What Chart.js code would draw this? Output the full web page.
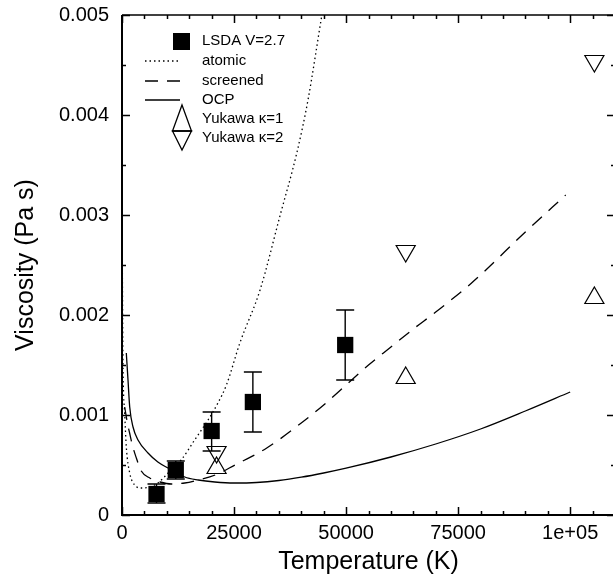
<!DOCTYPE html>
<html>
<head>
<meta charset="utf-8">
<script src="https://cdn.jsdelivr.net/npm/chart.js@4.4.1/dist/chart.umd.min.js"></script>
<style>
  html, body { margin: 0; padding: 0; background: #fff; overflow: hidden; }
</style>
</head>
<body>
<canvas id="chart" width="615" height="580"></canvas>
<script>
// ================= DATA =================
const xTicks = [0, 25000, 50000, 75000, 100000];
const xTickLabels = ["0", "25000", "50000", "75000", "1e+05"];
const yTicks = [0, 0.001, 0.002, 0.003, 0.004, 0.005];
const yTickLabels = ["0", "0.001", "0.002", "0.003", "0.004", "0.005"];

// LSDA V=2.7 (squares with error bars)
const lsdaT = [7700, 12000, 20000, 29200, 49800];
const lsdaV = [0.00021, 0.00045, 0.00084, 0.00113, 0.0017];
const lsdaLow = [0.00012, 0.00036, 0.00064, 0.00083, 0.00135];
const lsdaHigh = [0.00031, 0.00054, 0.00103, 0.00143, 0.00205];

// atomic (dotted)
const atomicT = [60, 220, 600, 960, 1720, 2830, 4300, 6200, 8000, 10300, 13200, 16200, 19200, 21400, 23300, 26300, 30800, 35300, 39000, 41500, 44600, 46500];
const atomicV = [0.0026, 0.00152, 0.00102, 0.00068, 0.00042, 0.0003, 0.00027, 0.00028, 0.00032, 0.00042, 0.00055, 0.00075, 0.00095, 0.00112, 0.0013, 0.00172, 0.00225, 0.003, 0.00362, 0.00415, 0.005, 0.0055];

// screened (dashed)
const screenedT = [600, 1200, 1700, 2300, 3200, 4300, 6200, 8500, 11000, 14000, 17000, 20800, 25200, 32300, 40000, 45000, 50000, 55000, 60000, 65000, 70000, 78000, 90000, 99000];
const screenedV = [0.00108, 0.00092, 0.00082, 0.0007, 0.00057, 0.00044, 0.00037, 0.00033, 0.00031, 0.00032, 0.00035, 0.0004, 0.0005, 0.00067, 0.00092, 0.0011, 0.0013, 0.0015, 0.00168, 0.00186, 0.00203, 0.00232, 0.00283, 0.0032];

// OCP (solid)
const ocpT = [960, 1340, 1720, 2460, 3570, 5800, 8000, 10270, 12000, 14000, 17000, 20700, 25000, 30000, 35000, 40000, 45000, 50000, 60000, 70000, 80000, 90000, 100000];
const ocpV = [0.00162, 0.00135, 0.00108, 0.00088, 0.00075, 0.00062, 0.00053, 0.00047, 0.00043, 0.00038, 0.00035, 0.00033, 0.00032, 0.000325, 0.000345, 0.000378, 0.00042, 0.000468, 0.00058, 0.00071, 0.00086, 0.00104, 0.00123];

// Yukawa points
const yuk1T = [21100, 63300, 105400];
const yuk1V = [0.00047, 0.00137, 0.00217];
const yuk2T = [21100, 63300, 105400];
const yuk2V = [0.00063, 0.00264, 0.00454];

const xMinorStep = 5000;
const yMinorStep = 0.0005;

// ================= HELPERS =================
function toPoints(xs, ys) {
  return xs.map((x, i) => ({ x: x, y: ys[i] }));
}

const FONT = "'Liberation Sans', Arial, Helvetica, sans-serif";

// ================= PLUGINS =================
// error bars for the LSDA squares
const errorBars = {
  id: "errorBars",
  beforeDatasetsDraw(chart) {
    const { ctx, scales: { x, y } } = chart;
    ctx.save();
    ctx.strokeStyle = "#000";
    ctx.lineWidth = 1.4;
    lsdaT.forEach((t, i) => {
      const px = x.getPixelForValue(t);
      const lo = y.getPixelForValue(lsdaLow[i]);
      const hi = y.getPixelForValue(lsdaHigh[i]);
      ctx.beginPath();
      ctx.moveTo(px, lo); ctx.lineTo(px, hi);
      ctx.moveTo(px - 9, lo); ctx.lineTo(px + 9, lo);
      ctx.moveTo(px - 9, hi); ctx.lineTo(px + 9, hi);
      ctx.stroke();
    });
    ctx.restore();
  }
};

// box frame with inward ticks on all four sides
const frameTicks = {
  id: "frameTicks",
  afterDraw(chart) {
    const { ctx, chartArea: a, scales: { x, y } } = chart;
    ctx.save();
    ctx.strokeStyle = "#000";
    ctx.lineWidth = 1.5;
    ctx.beginPath();
    for (let v = 0; v <= x.max; v += xMinorStep) {
      const px = Math.round(x.getPixelForValue(v)) + 0.5;
      const len = xTicks.includes(v) ? 8 : 4;
      ctx.moveTo(px, a.bottom); ctx.lineTo(px, a.bottom - len);
      ctx.moveTo(px, a.top); ctx.lineTo(px, a.top + len);
    }
    for (let i = 0; i * yMinorStep <= y.max + 1e-9; i++) {
      const py = Math.round(y.getPixelForValue(i * yMinorStep)) + 0.5;
      const len = i % 2 === 0 ? 8 : 4;
      ctx.moveTo(a.left, py); ctx.lineTo(a.left + len, py);
      ctx.moveTo(a.right, py); ctx.lineTo(a.right - len, py);
    }
    ctx.stroke();

    ctx.lineWidth = 2;
    ctx.beginPath();
    ctx.moveTo(a.left, a.top);
    ctx.lineTo(a.left, a.bottom);
    ctx.lineTo(a.right, a.bottom);
    ctx.stroke();
    ctx.lineWidth = 1.5;
    ctx.beginPath();
    ctx.moveTo(a.left, a.top);
    ctx.lineTo(a.right, a.top);
    ctx.stroke();
    ctx.restore();
  }
};

// legend inside the plot, top left
const insideLegend = {
  id: "insideLegend",
  afterDraw(chart) {
    const { ctx } = chart;
    const rows = [41, 61, 81, 100, 119, 138];
    const textX = 202;
    ctx.save();
    ctx.fillStyle = "#000";
    ctx.strokeStyle = "#000";
    ctx.font = "15px " + FONT;
    ctx.textBaseline = "middle";
    chart.data.datasets.forEach((ds, i) => {
      const ry = rows[i];
      ctx.fillText(ds.label, textX, ry);
      ctx.lineWidth = 1.3;
      if (ds.legendKind === "square") {
        ctx.fillRect(173, ry - 8, 17, 17);
      } else if (ds.legendKind === "line") {
        ctx.setLineDash(ds.borderDash || []);
        ctx.beginPath();
        ctx.moveTo(145, ry); ctx.lineTo(180, ry);
        ctx.stroke();
        ctx.setLineDash([]);
      } else if (ds.legendKind === "up") {
        ctx.beginPath();
        ctx.moveTo(182, ry - 14);
        ctx.lineTo(191.5, ry + 12);
        ctx.lineTo(172.5, ry + 12);
        ctx.closePath();
        ctx.stroke();
      } else if (ds.legendKind === "down") {
        ctx.beginPath();
        ctx.moveTo(172.5, ry - 7);
        ctx.lineTo(191.5, ry - 7);
        ctx.lineTo(182, ry + 12);
        ctx.closePath();
        ctx.stroke();
      }
    });
    ctx.restore();
  }
};

// ================= CHART =================
const lineBase = {
  type: "scatter",
  showLine: true,
  borderColor: "#000",
  borderWidth: 1.3,
  pointRadius: 0,
  fill: false,
  cubicInterpolationMode: "monotone",
  legendKind: "line"
};

new Chart(document.getElementById("chart"), {
  type: "scatter",
  data: {
    datasets: [
      {
        label: "LSDA V=2.7",
        data: toPoints(lsdaT, lsdaV),
        pointStyle: "rect",
        pointRadius: 11.5,
        backgroundColor: "#000",
        borderColor: "#000",
        borderWidth: 0,
        legendKind: "square"
      },
      Object.assign({}, lineBase, {
        label: "atomic",
        data: toPoints(atomicT, atomicV),
        borderDash: [1.5, 3]
      }),
      Object.assign({}, lineBase, {
        label: "screened",
        data: toPoints(screenedT, screenedV),
        borderDash: [13, 9]
      }),
      Object.assign({}, lineBase, {
        label: "OCP",
        data: toPoints(ocpT, ocpV)
      }),
      {
        label: "Yukawa \u03ba=1",
        data: toPoints(yuk1T, yuk1V),
        pointStyle: "triangle",
        pointRadius: 11,
        backgroundColor: "rgba(0,0,0,0)",
        borderColor: "#000",
        borderWidth: 1.2,
        legendKind: "up"
      },
      {
        label: "Yukawa \u03ba=2",
        data: toPoints(yuk2T, yuk2V),
        pointStyle: "triangle",
        rotation: 180,
        pointRadius: 11,
        backgroundColor: "rgba(0,0,0,0)",
        borderColor: "#000",
        borderWidth: 1.2,
        legendKind: "down"
      }
    ]
  },
  options: {
    responsive: false,
    animation: false,
    events: [],
    layout: { autoPadding: false, padding: { top: 15, right: 0, left: 0, bottom: 0 } },
    plugins: {
      legend: { display: false },
      tooltip: { enabled: false }
    },
    scales: {
      x: {
        type: "linear",
        min: 0,
        max: 110000,
        grid: { display: false, drawTicks: false },
        border: { display: false },
        afterBuildTicks: (scale) => { scale.ticks = xTicks.map(v => ({ value: v })); },
        afterFit: (scale) => {
          scale.height = 65;
          scale.paddingLeft = 0;
          scale.paddingRight = 0;
        },
        ticks: {
          color: "#000",
          padding: 6,
          maxRotation: 0,
          font: { family: FONT, size: 20 },
          callback: (v) => xTickLabels[xTicks.indexOf(v)]
        },
        title: {
          display: true,
          text: "Temperature (K)",
          color: "#000",
          font: { family: FONT, size: 25 },
          padding: { top: 0, bottom: 3 }
        }
      },
      y: {
        type: "linear",
        min: 0,
        max: 0.005,
        grid: { display: false, drawTicks: false },
        border: { display: false },
        afterBuildTicks: (scale) => { scale.ticks = yTicks.map(v => ({ value: v })); },
        afterFit: (scale) => {
          scale.width = 122;
          scale.paddingTop = 0;
          scale.paddingBottom = 0;
        },
        ticks: {
          color: "#000",
          padding: 13,
          font: { family: FONT, size: 20 },
          callback: (v) => yTickLabels[yTicks.indexOf(v)]
        },
        title: {
          display: true,
          text: "Viscosity (Pa s)",
          color: "#000",
          font: { family: FONT, size: 25 },
          padding: { top: 11, bottom: 0 }
        }
      }
    }
  },
  plugins: [errorBars, frameTicks, insideLegend]
});
</script>
</body>
</html>
